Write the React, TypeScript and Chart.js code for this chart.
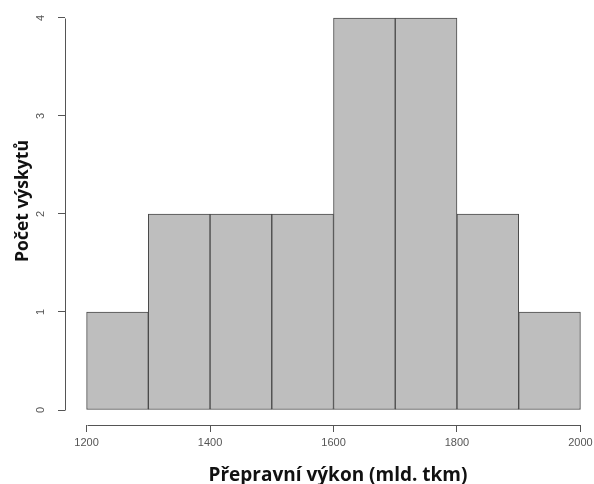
import React, { useEffect, useRef } from "react";
import { Chart, registerables } from "chart.js";

Chart.register(...registerables);

// Histogram data
const binEdges = [1200, 1300, 1400, 1500, 1600, 1700, 1800, 1900, 2000];
const counts = [1, 2, 2, 2, 4, 4, 2, 1];
const xTicks = [1200, 1400, 1600, 1800, 2000];
const yTicks = [0, 1, 2, 3, 4];
const xTitle = "Přepravní výkon (mld. tkm)";
const yTitle = "Počet výskytů";

const AXIS_COLOR = "#555555";
const TICK_COLOR = "#555555";

const rAxesPlugin = {
  id: "rAxes",
  afterDraw(chart: any) {
    const { ctx, chartArea, scales } = chart;
    const xs = scales.x;
    const ys = scales.y;
    ctx.save();
    ctx.strokeStyle = AXIS_COLOR;
    ctx.lineWidth = 1;
    // x axis line between first and last tick
    const yLine = Math.round(chartArea.bottom) + 0.5;
    ctx.beginPath();
    ctx.moveTo(Math.round(xs.getPixelForValue(xTicks[0])) + 0.5, yLine);
    ctx.lineTo(Math.round(xs.getPixelForValue(xTicks[xTicks.length - 1])) + 0.5, yLine);
    ctx.stroke();
    // y axis line between first and last tick
    const xLine = Math.round(chartArea.left) + 0.5;
    ctx.beginPath();
    ctx.moveTo(xLine, Math.round(ys.getPixelForValue(yTicks[0])) + 0.5);
    ctx.lineTo(xLine, Math.round(ys.getPixelForValue(yTicks[yTicks.length - 1])) + 0.5);
    ctx.stroke();

    // axis titles
    ctx.fillStyle = "#111111";
    ctx.textAlign = "center";
    ctx.font = "bold 19px 'Open Sans'";
    ctx.textBaseline = "alphabetic";
    ctx.fillText(xTitle, 338, 481);
    ctx.font = "bold 17.5px 'Open Sans'";
    ctx.textBaseline = "middle";
    ctx.translate(23, 201);
    ctx.rotate(-Math.PI / 2);
    ctx.fillText(yTitle, 0, 0);
    ctx.restore();
  },
};

export default function App() {
  const canvasRef = useRef<HTMLCanvasElement | null>(null);

  useEffect(() => {
    if (!canvasRef.current) return;
    const data = counts.map((c, i) => ({ x: (binEdges[i] + binEdges[i + 1]) / 2, y: c }));
    const chart = new Chart(canvasRef.current, {
      type: "bar",
      data: {
        datasets: [
          {
            data: data as any,
            backgroundColor: "#bebebe",
            borderColor: "#4a4a4a",
            borderWidth: 1,
            borderSkipped: false,
            barPercentage: 1,
            categoryPercentage: 1,
          },
        ],
      },
      options: {
        animation: false,
        responsive: true,
        maintainAspectRatio: false,
        layout: { padding: { top: 2, right: 0, bottom: 0, left: 0 } },
        plugins: { legend: { display: false }, tooltip: { enabled: false } },
        scales: {
          x: {
            type: "linear",
            offset: false,
            min: 1165,
            max: 2022,
            afterBuildTicks: (scale: any) => {
              scale.ticks = xTicks.map((v) => ({ value: v }));
            },
            afterFit: (scale: any) => {
              scale.height = 59;
              scale.paddingLeft = 0;
              scale.paddingRight = 0;
            },
            grid: {
              display: true,
              offset: false,
              drawOnChartArea: false,
              drawTicks: true,
              tickLength: 7,
              color: AXIS_COLOR,
            },
            border: { display: false },
            ticks: {
              color: TICK_COLOR,
              font: { family: "'Liberation Sans', Arial", size: 11 },
              padding: 4,
              maxRotation: 0,
              autoSkip: false,
              callback: (v: any) => String(v),
            },
          },
          y: {
            type: "linear",
            min: -0.153,
            max: 4.163,
            afterBuildTicks: (scale: any) => {
              scale.ticks = yTicks.map((v) => ({ value: v }));
            },
            afterFit: (scale: any) => {
              scale.width = 65;
              scale.paddingTop = 0;
              scale.paddingBottom = 0;
            },
            grid: {
              display: true,
              drawOnChartArea: false,
              drawTicks: true,
              tickLength: 7,
              color: AXIS_COLOR,
            },
            border: { display: false },
            ticks: {
              color: TICK_COLOR,
              font: { family: "'Liberation Sans', Arial", size: 11 },
              padding: 14,
              minRotation: 90,
              maxRotation: 90,
              crossAlign: "center",
              autoSkip: false,
              callback: (v: any) => String(v),
            },
          },
        },
      },
      plugins: [rAxesPlugin],
    });
    return () => chart.destroy();
  }, []);

  return (
    <div style={{ position: "absolute", left: 0, top: 0, width: 594, height: 484, background: "#ffffff" }}>
      <canvas ref={canvasRef} />
    </div>
  );
}
